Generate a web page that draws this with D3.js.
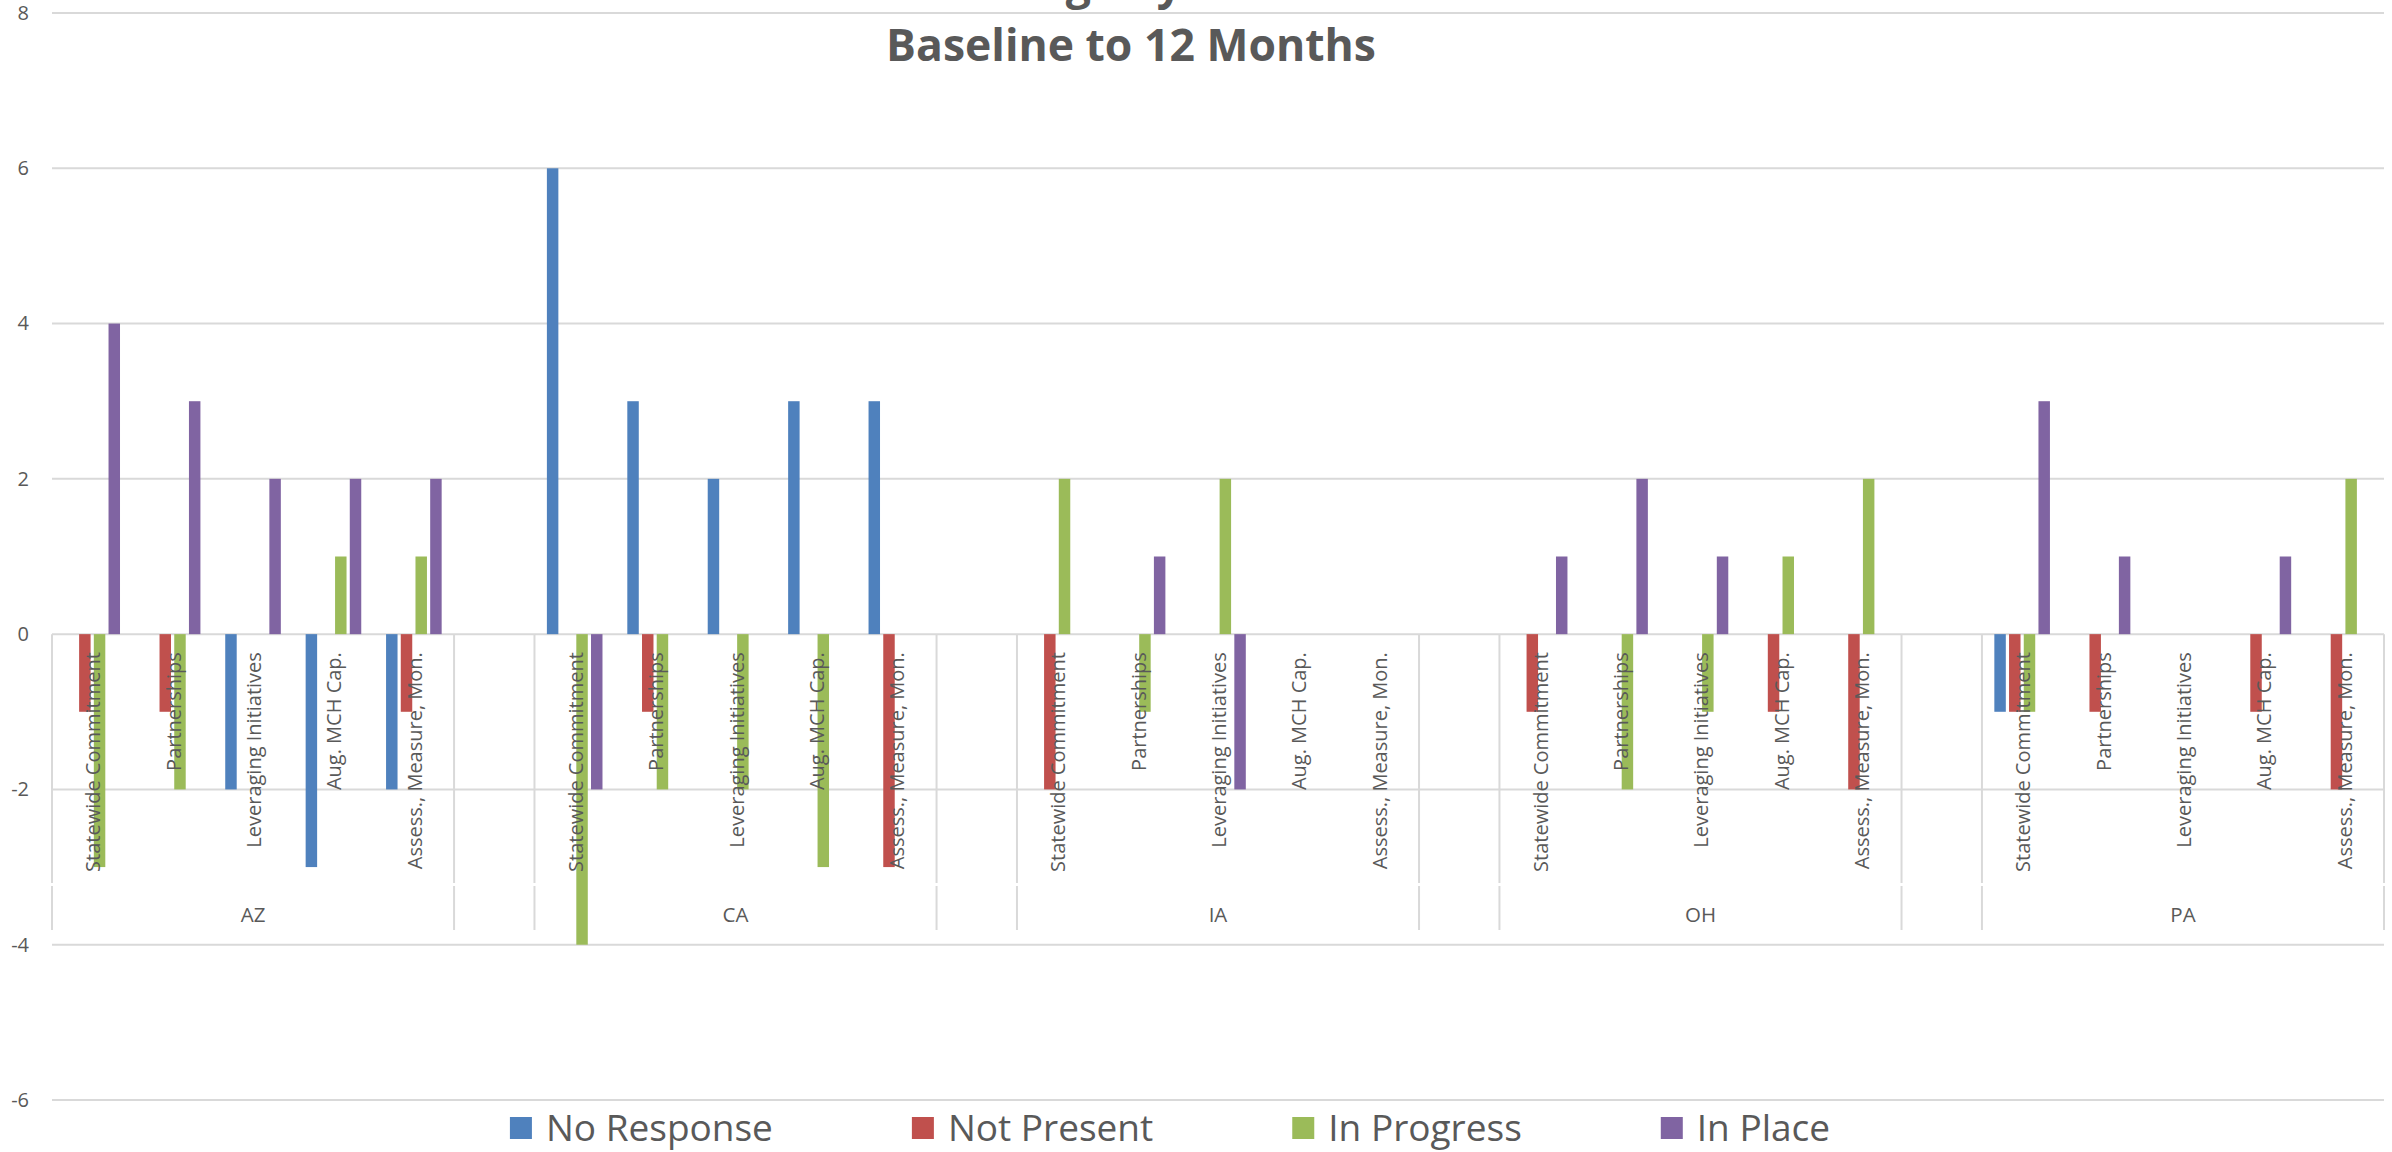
<!DOCTYPE html>
<html>
<head>
<meta charset="utf-8">
<script src="https://cdn.jsdelivr.net/npm/d3@7"></script>
<style>
  html, body { margin: 0; padding: 0; background: #ffffff; }
  svg { display: block; font-family: "Open Sans", "Noto Sans", sans-serif; }
</style>
</head>
<body>
<svg id="chart" width="2392" height="1152"></svg>
<script>
// States and the five system components reported for each
const states = ["AZ", "CA", "IA", "OH", "PA"];
const components = [
  "Statewide Commitment",
  "Partnerships",
  "Leveraging Initiatives",
  "Aug. MCH Cap.",
  "Assess., Measure, Mon."
];
const seriesNames = ["No Response", "Not Present", "In Progress", "In Place"];
const seriesColors = ["#4F81BD", "#C0504D", "#9BBB59", "#8064A2"];

// Change in count per status, baseline to 12 months (state by state, components in order)
const noResponse = [
  0, 0, -2, -3, -2,   // AZ
  6, 3, 2, 3, 3,      // CA
  0, 0, 0, 0, 0,      // IA
  0, 0, 0, 0, 0,      // OH
  -1, 0, 0, 0, 0      // PA
];
const notPresent = [
  -1, -1, 0, 0, -1,
  0, -1, 0, 0, -3,
  -2, 0, 0, 0, 0,
  -1, 0, 0, -1, -2,
  -1, -1, 0, -1, -2
];
const inProgress = [
  -3, -2, 0, 1, 1,
  -4, -2, -2, -3, 0,
  2, -1, 2, 0, 0,
  0, -2, -1, 1, 2,
  -1, 0, 0, 0, 2
];
const inPlace = [
  4, 3, 2, 2, 2,
  -2, 0, 0, 0, 0,
  0, 1, -2, 0, 0,
  1, 2, 1, 0, 0,
  3, 1, 0, 1, 0
];
const yTicks = [-6, -4, -2, 0, 2, 4, 6, 8];

const titleLines = ["Change by State", "Baseline to 12 Months"];

const seriesValues = [noResponse, notPresent, inProgress, inPlace];

const svg = d3.select("#chart");
const plotLeft = 52, plotRight = 2384;
const textColor = "#595959";
const gridColor = "#d9d9d9";

// Category slots: five components per state with an empty slot between states
const slots = [];
states.forEach((s, i) => {
  if (i > 0) slots.push({ key: "sep" + i, state: null });
  components.forEach((c, j) => slots.push({ key: s + "|" + c, state: s, comp: c, idx: i * components.length + j }));
});

const x0 = d3.scaleBand().domain(slots.map(d => d.key)).range([plotLeft, plotRight]);
const bw = x0.bandwidth();
const groupSpan = 55.6;
const x1 = d3.scaleBand().domain(seriesNames)
  .range([bw / 2 - groupSpan / 2, bw / 2 + groupSpan / 2])
  .paddingInner(0.22).paddingOuter(0);

const y = d3.scaleLinear().domain([-6, 8]).range([1100, 13]);

// Title (first line sits at the very top edge)
svg.append("g").selectAll("text").data(titleLines).join("text")
  .attr("x", 1131)
  .attr("y", (d, i) => -1 + i * 62)
  .attr("text-anchor", "middle")
  .attr("font-size", 44.5)
  .attr("font-weight", 700)
  .attr("fill", textColor)
  .text(d => d);

// Horizontal gridlines
svg.append("g").selectAll("line").data(yTicks).join("line")
  .attr("x1", plotLeft).attr("x2", plotRight)
  .attr("y1", d => y(d)).attr("y2", d => y(d))
  .attr("stroke", gridColor).attr("stroke-width", 2);

// Value axis labels
const yAxis = d3.axisLeft(y).tickValues(yTicks).tickSize(0).tickPadding(0).tickFormat(d => String(d));
const yg = svg.append("g").attr("transform", "translate(29,0)").call(yAxis);
yg.select(".domain").remove();
yg.selectAll("text")
  .attr("font-size", 20)
  .attr("font-family", "'Open Sans', sans-serif")
  .attr("fill", textColor);

// Category axis dividers around each state group
const zeroY = y(0);
const tierSplit = 883, axisBottom = 930;
const dividerX = [];
states.forEach(s => {
  const first = x0(s + "|" + components[0]);
  const last = x0(s + "|" + components[components.length - 1]) + bw;
  dividerX.push(first, last);
});
const dg = svg.append("g");
dg.selectAll("line.inner").data(dividerX).join("line").attr("class", "inner")
  .attr("x1", d => d).attr("x2", d => d)
  .attr("y1", zeroY).attr("y2", tierSplit)
  .attr("stroke", gridColor).attr("stroke-width", 2);
dg.selectAll("line.outer").data(dividerX).join("line").attr("class", "outer")
  .attr("x1", d => d).attr("x2", d => d)
  .attr("y1", tierSplit + 3).attr("y2", axisBottom)
  .attr("stroke", gridColor).attr("stroke-width", 2);

// Bars
const barData = [];
slots.filter(s => s.state).forEach(s => {
  seriesNames.forEach((name, k) => {
    const v = seriesValues[k][s.idx];
    if (v !== 0) barData.push({ key: s.key, series: name, color: seriesColors[k], value: v });
  });
});
svg.append("g").selectAll("rect").data(barData).join("rect")
  .attr("x", d => x0(d.key) + x1(d.series))
  .attr("width", x1.bandwidth())
  .attr("y", d => Math.min(y(d.value), zeroY))
  .attr("height", d => Math.abs(y(d.value) - zeroY))
  .attr("fill", d => d.color);

// Inner category labels (rotated)
svg.append("g").selectAll("text").data(slots.filter(s => s.state)).join("text")
  .attr("transform", d => `translate(${x0(d.key) + bw / 2},${zeroY + 18}) rotate(-90)`)
  .attr("text-anchor", "end")
  .attr("dy", "0.4em")
  .attr("font-size", 20)
  .attr("fill", textColor)
  .text(d => d.comp);

// Outer category labels (states)
svg.append("g").selectAll("text").data(states).join("text")
  .attr("x", s => (x0(s + "|" + components[0]) + x0(s + "|" + components[components.length - 1]) + bw) / 2)
  .attr("y", 915)
  .attr("dy", "0.35em")
  .attr("text-anchor", "middle")
  .attr("font-size", 20.5)
  .attr("fill", textColor)
  .text(s => s);

// Legend
const legend = svg.append("g");
const items = legend.selectAll("g").data(seriesNames).join("g");
items.append("rect").attr("width", 22).attr("height", 22).attr("y", 1117)
  .attr("fill", (d, i) => seriesColors[i]);
items.append("text").attr("x", 36).attr("y", 1128).attr("dy", "0.35em")
  .attr("font-size", 37).attr("fill", textColor).text(d => d);
const widths = [];
items.each(function () { widths.push(this.getBBox().width); });
const gap = 139;
const total = d3.sum(widths) + gap * (widths.length - 1);
let cx = 1170 - total / 2;
items.attr("transform", (d, i) => {
  const t = `translate(${cx},0)`;
  cx += widths[i] + gap;
  return t;
});
</script>
</body>
</html>
